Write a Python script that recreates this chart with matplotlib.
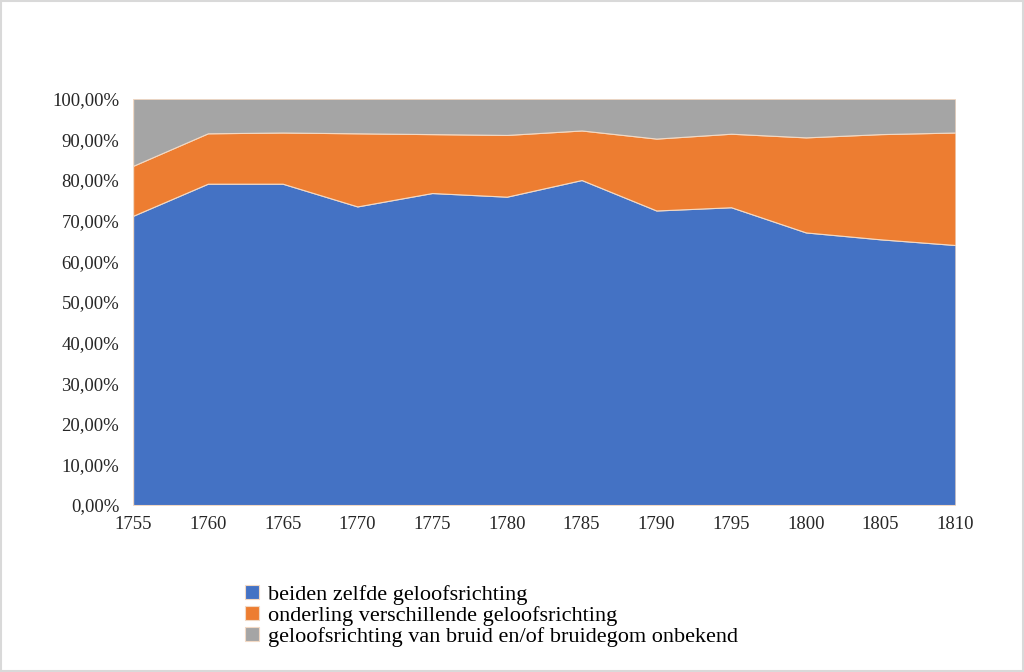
import numpy as np
import matplotlib.pyplot as plt
from matplotlib.ticker import FuncFormatter
from matplotlib.patches import Rectangle

# jaren en aandelen (in %)
years = [1755, 1760, 1765, 1770, 1775, 1780, 1785, 1790, 1795, 1800, 1805, 1810]
zelfde = [71.2, 79.1, 79.1, 73.5, 76.8, 75.9, 80.0, 72.5, 73.3, 67.1, 65.4, 64.0]
verschillend = [12.3, 12.4, 12.6, 18.0, 14.5, 15.2, 12.2, 17.7, 18.1, 23.4, 25.9, 27.7]
onbekend = [100 - a - b for a, b in zip(zelfde, verschillend)]

labels = ['beiden zelfde geloofsrichting',
          'onderling verschillende geloofsrichting',
          'geloofsrichting van bruid en/of bruidegom onbekend']
colors = ['#4472C4', '#ED7D31', '#A5A5A5']

plt.rcParams['font.family'] = ['Liberation Serif', 'DejaVu Serif']

fig = plt.figure(figsize=(10.24, 6.72), dpi=100)
ax = fig.add_axes([0.130, 0.2485, 0.803, 0.6045])

ax.stackplot(years, zelfde, verschillend, onbekend, colors=colors, labels=labels,
             edgecolor='#F2D9C4', linewidth=0.8)

ax.set_xlim(1755, 1810)
ax.set_ylim(0, 100)
ax.set_xticks(years)
ax.set_yticks(np.arange(0, 101, 10))
ax.yaxis.set_major_formatter(FuncFormatter(lambda v, p: ('%.2f%%' % v).replace('.', ',')))
ax.tick_params(length=0, labelsize=13.5, colors='#262626')
ax.tick_params(axis='x', pad=8)
ax.tick_params(axis='y', pad=10)
for s in ax.spines.values():
    s.set_visible(False)

handles, labs = ax.get_legend_handles_labels()
fig.legend(handles, labs, loc='upper left', bbox_to_anchor=(0.220, 1 - 565 / 672),
           bbox_transform=fig.transFigure, frameon=False, fontsize=16,
           handlelength=0.6, handleheight=0.6, handletextpad=0.4, labelspacing=0.05)

# lichtgrijze rand om de figuur
fig.patches.append(Rectangle((0.001, 0.001), 0.998, 0.998, transform=fig.transFigure,
                             fill=False, edgecolor='#D9D9D9', linewidth=1.5))

fig.savefig('out.png', dpi=100)
